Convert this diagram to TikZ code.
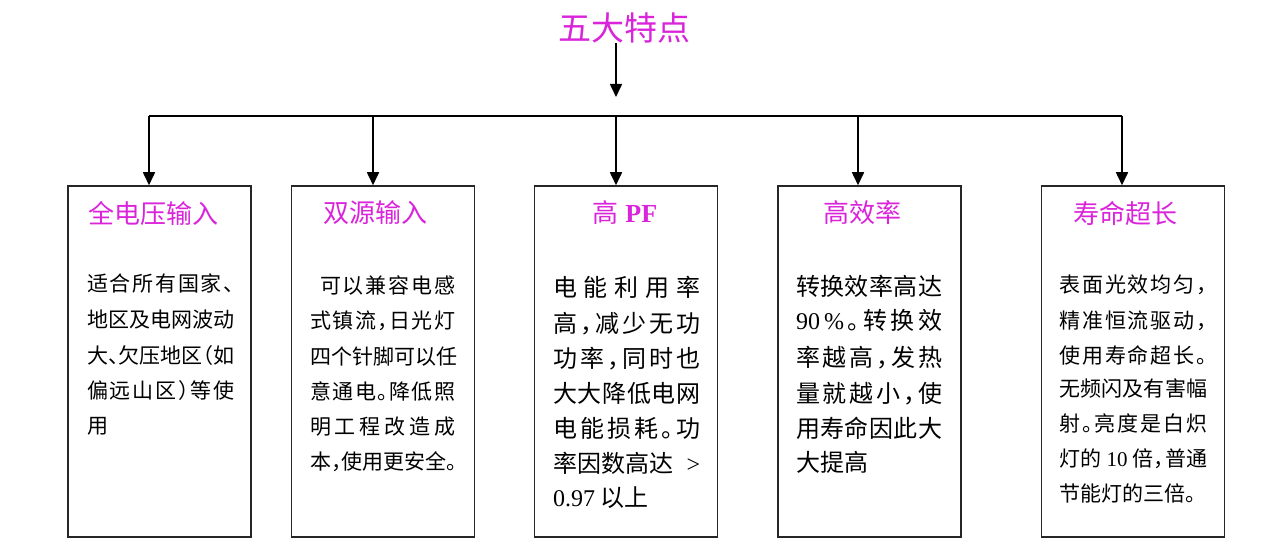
\documentclass[tikz,border=0pt]{standalone}
\usepackage{fontspec}
\setmainfont[RawFeature=+halt]{Noto Sans CJK SC}
\newfontfamily\lat{Liberation Serif}
\usetikzlibrary{arrows.meta}
\definecolor{mag}{RGB}{218,36,218}
\def\spEnd{\spEnd}
\def\spA#1{{#1}\spB}
\def\spB#1{\ifx\spEnd#1\else\hfill{#1}\expandafter\spB\fi}
\newcommand\spr[2]{\makebox[#1][s]{\spA#2\spEnd}}
\tikzset{
 bx/.style={draw=black!85, line width=1.5pt, minimum width=183pt, minimum height=351pt, inner sep=0pt},
 hd/.style={text=mag, font=\fontsize{26}{30}\selectfont, inner sep=0pt},
 sm/.style={anchor=west, inner sep=0pt, font=\fontsize{21}{25}\selectfont, text height=18.5pt, text depth=2.5pt},
 lg/.style={anchor=west, inner sep=0pt, font=\fontsize{24}{28}\selectfont, text height=21pt, text depth=3pt},
 ar/.style={line width=1.6pt, -{Triangle[length=13pt,width=12pt]}},
 ln/.style={line width=1.6pt},
}
\begin{document}
\begin{tikzpicture}[x=1pt,y=-1pt]
\useasboundingbox (0,0) rectangle (1286,556);
% title
\node[text=mag, font=\fontsize{33}{38}\selectfont, inner sep=0pt] (t) at (624,28) {五大特点};
\coordinate (a) at (616,97);
\draw[ar] (t.south -| a) -- (a);
% boxes
\node[bx] (b1) at (159.5,361.5) {};
\node[bx] (b2) at (383,361.5) {};
\node[bx] (b3) at (626,361.5) {};
\node[bx] (b4) at (869.5,361.5) {};
\node[bx] (b5) at (1133,361.5) {};
% bus
\coordinate (h1) at (149,116);
\coordinate (h2) at (373,116);
\coordinate (h3) at (616,116);
\coordinate (h4) at (858,116);
\coordinate (h5) at (1122,116);
\draw[ln] (h1) -- (h5);
\foreach \i in {1,...,5}{\draw[ar] (h\i) -- (b\i.north -| h\i);}
% headings
\node[hd] (t1) at (153.5,213) {全电压输入};
\node[hd] (t2) at (375,213) {双源输入};
\node[hd] (t3) at (625,213) {高{\lat\bfseries\ PF}};
\node[hd] (t4) at (862,213) {高效率};
\node[hd] (t5) at (1125,213) {寿命超长};
% box 1
\node[sm] (p11) at (87,283) {\spr{147pt}{适合所有国家、}};
\node[sm] (p12) at (87,319) {\spr{147pt}{地区及电网波动}};
\node[sm] (p13) at (87,355) {大、欠压地区（如};
\node[sm] (p14) at (87,390) {\spr{147pt}{偏远山区）等使}};
\node[sm] (p15) at (87,425) {用};
% box 2
\node[sm] (p21) at (320,286) {\spr{135pt}{可以兼容电感}};
\node[sm] (p22) at (310,321) {\spr{145pt}{式镇流，日光灯}};
\node[sm] (p23) at (310,356) {\spr{145pt}{四个针脚可以任}};
\node[sm] (p24) at (310,391) {\spr{145pt}{意通电。降低照}};
\node[sm] (p25) at (310,426) {\spr{145pt}{明工程改造成}};
\node[sm] (p26) at (310,461) {\spr{145pt}{本，使用更安全。}};
% box 3
\node[lg] (p31) at (553,288) {\spr{147pt}{电能利用率}};
\node[lg] (p32) at (553,323) {\spr{147pt}{高，减少无功}};
\node[lg] (p33) at (553,358) {\spr{147pt}{功率，同时也}};
\node[lg] (p34) at (553,393) {\spr{147pt}{大大降低电网}};
\node[lg] (p35) at (553,428) {\spr{147pt}{电能损耗。功}};
\node[lg] (p36) at (553,463) {\makebox[147pt][s]{率因数高达\hfill{\lat >}}};
\node[lg] (p37) at (553,497) {{\lat 0.97} 以上};
% box 4
\node[lg] (p41) at (796,287) {\spr{146pt}{转换效率高达}};
\node[lg] (p42) at (796,321) {\spr{146pt}{{\lat 90\,\%}。转换效}};
\node[lg] (p43) at (796,357) {\spr{146pt}{率越高，发热}};
\node[lg] (p44) at (796,393) {\spr{146pt}{量就越小，使}};
\node[lg] (p45) at (796,428) {\spr{146pt}{用寿命因此大}};
\node[lg] (p46) at (796,462) {大提高};
% box 5
\node[sm] (p51) at (1059,285) {\spr{148pt}{表面光效均匀，}};
\node[sm] (p52) at (1059,320) {\spr{148pt}{精准恒流驱动，}};
\node[sm] (p53) at (1059,355) {\spr{148pt}{使用寿命超长。}};
\node[sm] (p54) at (1059,388) {\spr{148pt}{无频闪及有害幅}};
\node[sm] (p55) at (1059,423) {\spr{148pt}{射。亮度是白炽}};
\node[sm] (p56) at (1059,458) {\makebox[148pt][s]{灯的\hfill{\lat 10}\hfill 倍\makebox[6pt][l]{，}\hfill 普通}};
\node[sm] (p57) at (1059,493) {节能灯的三倍。};
\end{tikzpicture}
\end{document}
